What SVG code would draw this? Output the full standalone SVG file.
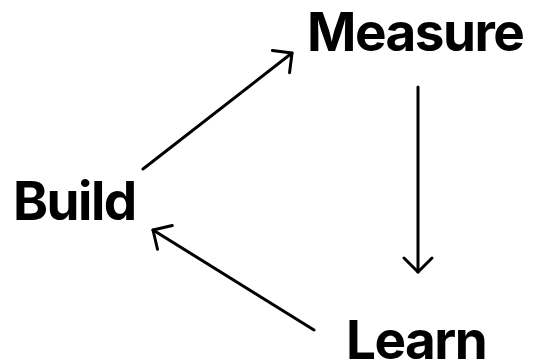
<svg xmlns="http://www.w3.org/2000/svg" width="548" height="363" viewBox="0 0 548 363">
<style>
.lbl{font-family:Inter,"Liberation Sans",sans-serif;font-weight:700;font-size:53px;letter-spacing:-1.5px;fill:#000}
.c{stroke:#000;stroke-width:3;fill:none;stroke-linecap:round}
</style>
<defs>
<marker id="ah" markerUnits="userSpaceOnUse" markerWidth="40" markerHeight="40" viewBox="-20 -20 40 40" refX="0" refY="0" orient="auto">
<path d="M-14,-14 L0,0 L-14,14" fill="none" stroke="#000" stroke-width="3" stroke-linecap="round" stroke-linejoin="round"/>
</marker>
</defs>
<rect width="548" height="363" fill="#fff"/>
<g id="connectors">
<line class="c" x1="143" y1="169" x2="292" y2="53" marker-end="url(#ah)"/>
<line class="c" x1="418" y1="87" x2="418" y2="272" marker-end="url(#ah)"/>
<line class="c" x1="314" y1="330" x2="153" y2="230" marker-end="url(#ah)"/>
</g>
<g id="measure"><text class="lbl" x="307" y="51">Measure</text></g>
<g id="build"><text class="lbl" x="13" y="220">Build</text></g>
<g id="learn"><text class="lbl" x="346" y="359">Learn</text></g>
</svg>
